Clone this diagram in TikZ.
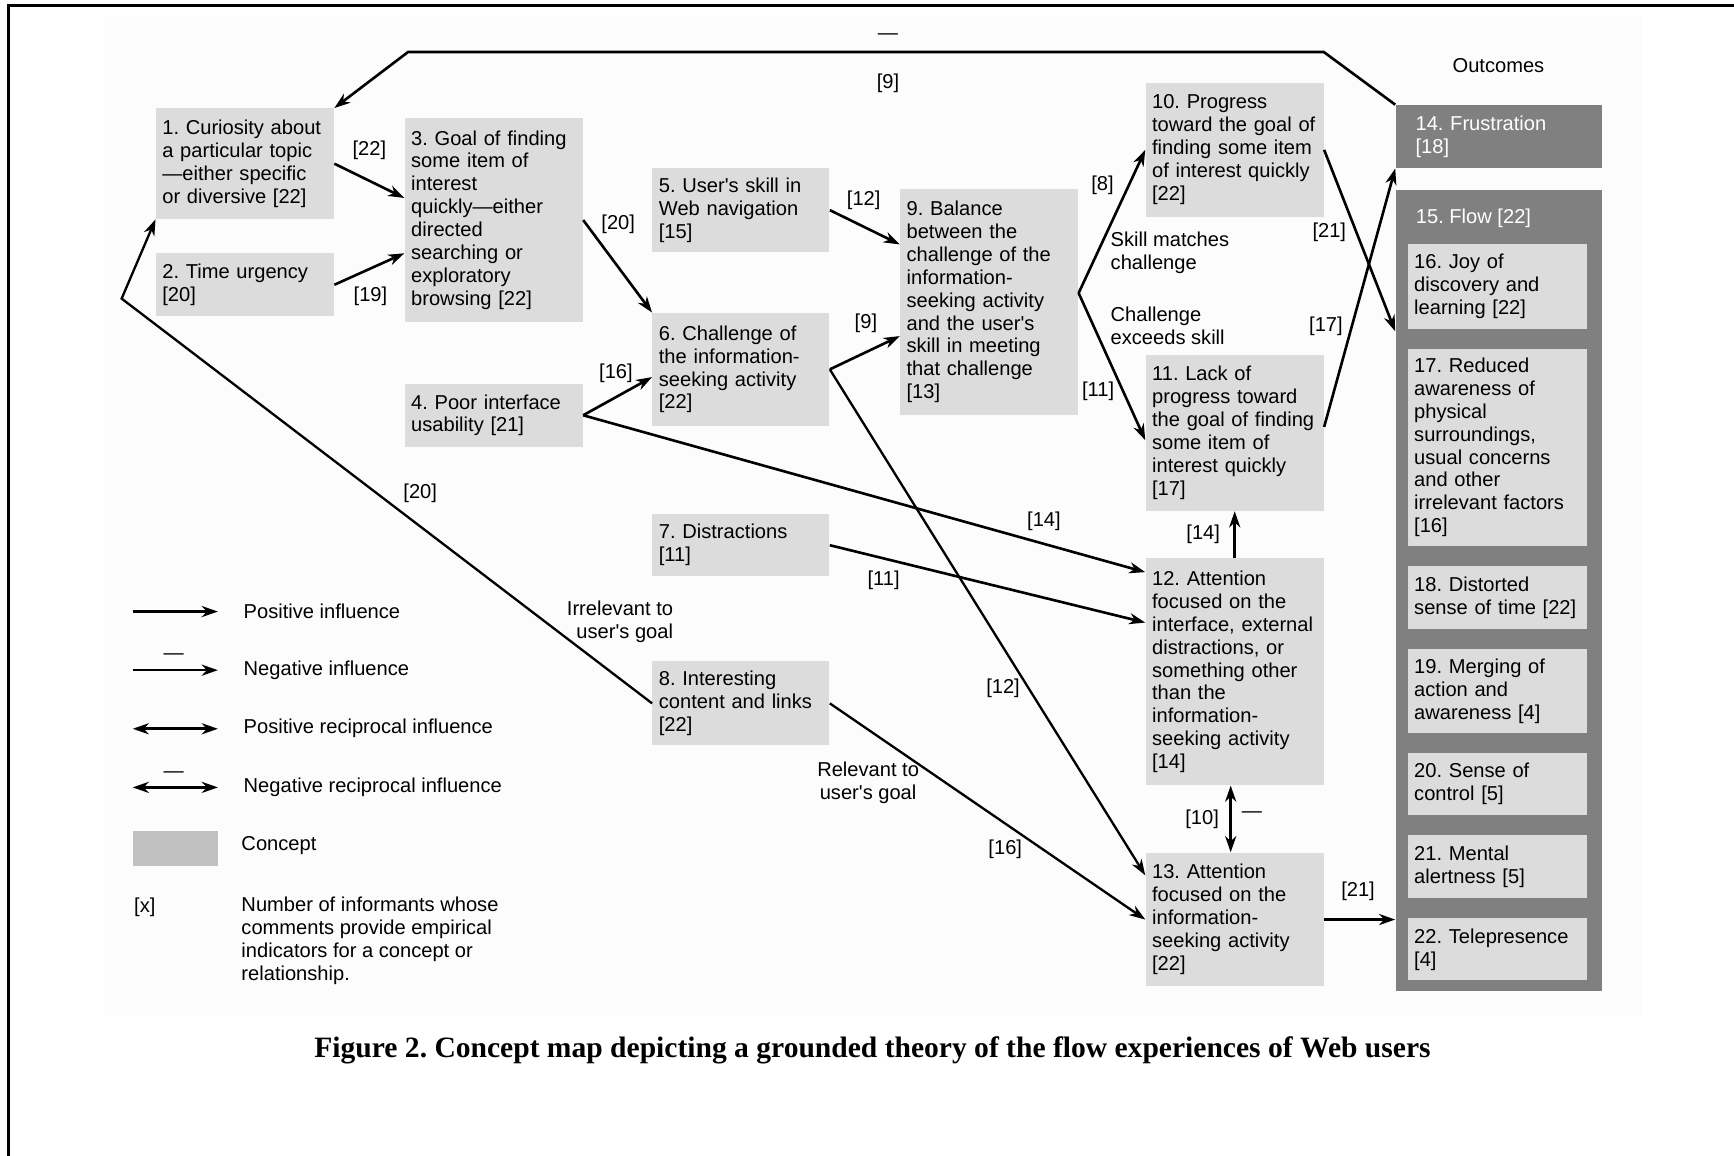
\documentclass[tikz,border=0pt]{standalone}
\usepackage{fontspec}
\setmainfont{Liberation Sans}
\newfontfamily\figcapfont{Liberation Serif}
\usepackage{tikz}
\usetikzlibrary{arrows.meta, positioning}
\definecolor{conceptgray}{HTML}{DCDCDC}
\definecolor{outcomegray}{HTML}{808080}
\definecolor{legendgray}{HTML}{C0C0C0}
\definecolor{paper}{HTML}{FCFCFC}
\frenchspacing
\newcommand{\ap}{\textquotesingle}
\tikzstyle{concept} = [rectangle, fill=conceptgray, inner xsep=3.2pt, inner ysep=3pt, text width=82.15pt, align=left, minimum width=88.55pt]
\tikzstyle{narrow} = [concept, text width=81.6pt, minimum width=88pt]
\tikzstyle{flowitem} = [concept, text width=82.7pt, minimum width=89.1pt]
\tikzstyle{outcome} = [rectangle, fill=outcomegray, text=white, inner xsep=9.9pt, text width=83pt, align=left, minimum width=102.85pt]
\tikzstyle{arrow} = [line width=1.3pt, -{Stealth[length=8pt, width=5.5pt, inset=2.5pt]}]
\tikzstyle{thinarrow} = [arrow, line width=1.15pt]
\tikzstyle{twoway} = [line width=1.3pt, {Stealth[length=8pt, width=5.5pt, inset=2.5pt]}-{Stealth[length=8pt, width=5.5pt, inset=2.5pt]}]
\tikzstyle{count} = [inner sep=0pt]
\tikzstyle{legendtext} = [inner sep=0pt, anchor=west, align=left]

\begin{document}
\begin{tikzpicture}[x=0.55pt, y=-0.55pt, font=\fontsize{10}{11.4}\selectfont]

\useasboundingbox (0,0) rectangle (1568,1045);
\fill [paper] (94,15) rectangle (1485,919);
\draw [line width=1.5pt] (8,1045) -- (8,5) -- (1568,5);

\node (curiosity) [concept, minimum height=55pt] at (221.5,148) {1. Curiosity about\\a particular topic\\—either specific\\or diversive [22]};
\node (urgency) [concept, minimum height=31.35pt] at (221.5,257.5) {2. Time urgency\\{[20]}};
\node (goal) [concept, minimum height=101.2pt] at (446.5,199) {3. Goal of finding\\some item of\\interest\\quickly—either\\directed\\searching or\\exploratory\\browsing [22]};
\node (usability) [concept, minimum height=31.35pt] at (446.5,375.5) {4. Poor interface\\usability [21]};
\node (skill) [narrow, minimum height=41.8pt] at (670,190) {5. User\ap s skill in\\Web navigation\\{[15]}};
\node (challenge) [narrow, minimum height=56.1pt] at (670,334) {6. Challenge of\\the information-\\seeking activity\\{[22]}};
\node (distract) [narrow, minimum height=30.8pt] at (670,493) {7. Distractions\\{[11]}};
\node (content) [narrow, minimum height=41.8pt] at (670,636) {8. Interesting\\content and links\\{[22]}};
\node (balance) [concept, minimum height=112.2pt] at (894.5,273) {9. Balance\\between the\\challenge of the\\information-\\seeking activity\\and the user\ap s\\skill in meeting\\that challenge\\{[13]}};
\node (progress) [concept, minimum height=66.55pt] at (1116.5,135.5) {10. Progress\\toward the goal of\\finding some item\\of interest quickly\\{[22]}};
\node (lack) [concept, minimum height=77.55pt] at (1116.5,391.5) {11. Lack of\\progress toward\\the goal of finding\\some item of\\interest quickly\\{[17]}};
\node (attiface) [concept, minimum height=112.75pt] at (1116.5,607.5) {12. Attention\\focused on the\\interface, external\\distractions, or\\something other\\than the\\information-\\seeking activity\\{[14]}};
\node (attinfo) [concept, minimum height=66.55pt] at (1116.5,831.5) {13. Attention\\focused on the\\information-\\seeking activity\\{[22]}};

\node (outcomes) at (1355,59) {Outcomes};
\node (frustration) [outcome, minimum height=31.35pt] at (1355.5,123.5) {14. Frustration\\{[18]}};
\node (flow) [outcome, minimum height=398.2pt] at (1355.5,534) {};
\node (flowtitle) [count, anchor=west, text=white] at (1280,197) {15. Flow [22]};
\node (joy) [flowitem, minimum height=42.35pt, anchor=north] at (1354,220) {16. Joy of\\discovery and\\learning [22]};
\node (aware) [flowitem, minimum height=97.9pt, below=9.6pt of joy] {17. Reduced\\awareness of\\physical\\surroundings,\\usual concerns\\and other\\irrelevant factors\\{[16]}};
\node (timesense) [flowitem, minimum height=31.35pt, below=9.6pt of aware] {18. Distorted\\sense of time [22]};
\node (merging) [flowitem, minimum height=41.8pt, below=9.6pt of timesense] {19. Merging of\\action and\\awareness [4]};
\node (control) [flowitem, minimum height=30.8pt, below=9.6pt of merging] {20. Sense of\\control [5]};
\node (alert) [flowitem, minimum height=31.35pt, below=9.6pt of control] {21. Mental\\alertness [5]};
\node (telepres) [flowitem, minimum height=30.8pt, below=9.6pt of alert] {22. Telepresence\\{[4]}};

\coordinate (topleft) at (369,47);
\coordinate (topright) at (1197,47);
\coordinate (leftbend) at (110,270);
\draw [arrow] (frustration.north west) -- (topright) -- (topleft) -- (curiosity.north east);
\node (topbar) [count] at (803,33) {—};
\node (topcount) [count] at (803,75) {[9]};

\draw [thinarrow] (content.west) -- (leftbend) -- (curiosity.south west);
\node (irrcount) [count] at (380,446) {[20]};
\node (irrelevant) [count, anchor=east, align=right] at (609,562) {Irrelevant to\\user\ap s goal};

\draw [arrow] (curiosity.east) -- ([yshift=11pt]goal.west);
\node (curcount) [count] at (334,136) {[22]};
\draw [arrow] (urgency.east) -- ([yshift=-16.5pt]goal.west);
\node (urgcount) [count] at (335,268) {[19]};
\draw [arrow] (goal.east) -- (challenge.north west);
\node (goalcount) [count] at (559,203) {[20]};
\draw [arrow] (usability.east) -- ([yshift=-3.85pt]challenge.west);
\node (usecount) [count] at (557,338) {[16]};
\draw [arrow] (usability.east) -- ([yshift=-7pt]attiface.north west);
\node (useattcount) [count] at (944,471) {[14]};
\draw [arrow] (skill.east) -- ([yshift=28.6pt]balance.west);
\node (skillcount) [count] at (781,181) {[12]};
\draw [arrow] (challenge.east) -- ([yshift=-17pt]balance.west);
\node (chalcount) [count] at (783,292) {[9]};
\draw [thinarrow] (challenge.east) -- ([yshift=-11.5pt]attinfo.north west);
\node (chalattcount) [count] at (907,622) {[12]};
\draw [arrow] (distract.east) -- ([yshift=24.5pt]attiface.west);
\node (distcount) [count] at (799,525) {[11]};
\draw [thinarrow] (content.east) -- (attinfo.west);
\node (contcount) [count] at (909,768) {[16]};
\node (relevant) [count, align=center] at (785,708) {Relevant to\\user\ap s goal};

\draw [arrow] ([yshift=4.4pt]balance.east) -- (progress.west);
\node (matchcount) [count] at (997,168) {[8]};
\node (skillmatch) [legendtext] at (1004,229) {Skill matches\\challenge};
\draw [arrow] ([yshift=4.4pt]balance.east) -- ([yshift=-3.6pt]lack.west);
\node (exceedcount) [count] at (993,354) {[11]};
\node (exceeds) [legendtext] at (1004,295) {Challenge\\exceeds skill};

\draw [arrow] (progress.east) -- ([yshift=-70.4pt]flow.north west);
\node (progcount) [count] at (1202,210) {[21]};
\draw [arrow] ([yshift=3pt]lack.east) -- (frustration.south west);
\node (lackcount) [count] at (1199,295) {[17]};
\draw [arrow] (attiface.north) -- (lack.south);
\node (attlackcount) [count] at (1088,483) {[14]};
\draw [twoway] ([xshift=-2pt]attiface.south) -- ([xshift=-2pt]attinfo.north);
\node (recipcount) [count] at (1087,741) {[10]};
\node (recipbar) [count] at (1132,737) {—};
\draw [arrow] (attinfo.east) -- (attinfo.east -| flow.west);
\node (flowcount) [count] at (1228,806) {[21]};

\node (lpos) [legendtext] at (220,553) {Positive influence};
\draw [arrow] ([xshift=-55pt]lpos.west) -- ([xshift=-12.65pt]lpos.west);
\node (lneg) [legendtext] at (220,606) {Negative influence};
\draw [arrow] ([xshift=-55pt]lneg.west) -- ([xshift=-12.65pt]lneg.west);
\node (lnegbar) [count] at (157,594) {—};
\node (lrec) [legendtext] at (220,659) {Positive reciprocal influence};
\draw [twoway] ([xshift=-55pt]lrec.west) -- ([xshift=-12.65pt]lrec.west);
\node (lnegrec) [legendtext] at (220,712) {Negative reciprocal influence};
\draw [twoway] ([xshift=-55pt]lnegrec.west) -- ([xshift=-12.65pt]lnegrec.west);
\node (lnegrecbar) [count] at (157,700) {—};
\node (lswatch) [fill=legendgray, minimum width=42.35pt, minimum height=17.6pt, inner sep=0pt] at (158.5,767) {};
\node (lconcept) [legendtext] at (218,765) {Concept};
\node (lx) [legendtext] at (121,820) {[x]};
\node (lxtext) [legendtext, anchor=north west] at (218,811) {Number of informants whose\\comments provide empirical\\indicators for a concept or\\relationship.};

\node (caption) at (789,950) {\figcapfont\bfseries\fontsize{14.7}{17}\selectfont Figure 2. Concept map depicting a grounded theory of the flow experiences of Web users};

\end{tikzpicture}
\end{document}
